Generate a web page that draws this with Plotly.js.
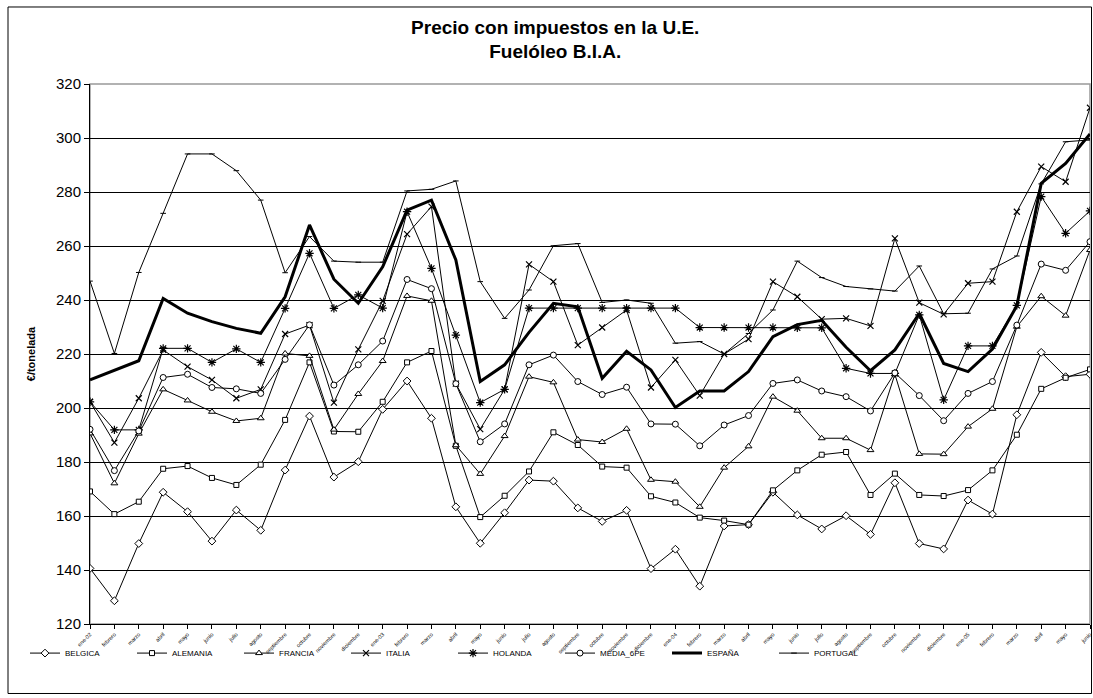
<!DOCTYPE html>
<html>
<head>
<meta charset="utf-8">
<script src="https://cdn.plot.ly/plotly-3.0.1.min.js"></script>
<style>
html,body{margin:0;padding:0;background:#fff;}
#chart{width:1093px;height:698px;}
</style>
</head>
<body>
<div id="chart"></div>
<script>
// Month labels (x axis categories)
const months = [
  "ene-02","febrero","marzo","abril","mayo","junio","julio","agosto","septiembre","octubre","noviembre","diciembre",
  "ene-03","febrero","marzo","abril","mayo","junio","julio","agosto","septiembre","octubre","noviembre","diciembre",
  "ene-04","febrero","marzo","abril","mayo","junio","julio","agosto","septiembre","octubre","noviembre","diciembre",
  "ene-05","febrero","marzo","abril","mayo","junio"
];

// Series values (€/tonelada)
const belgica = [140.6,128.6,149.8,168.8,161.6,150.7,162.2,154.7,177,197,174.4,180.1,
  199.5,210,196.2,163.4,149.9,161.2,173.3,172.9,163,158,162.1,140.5,
  147.7,134,156.3,156.8,168.8,160.4,155.2,160.1,153.2,172.3,149.8,147.8,
  165.9,160.7,197.5,220.6,211.6,212.5];
const alemania = [169.1,160.7,165.3,177.5,178.5,174.1,171.5,179,195.6,216.9,191.3,191.2,
  202.3,216.9,221.1,186,159.6,167.5,176.5,191,186.3,178.3,177.9,167.3,
  165,159.4,158.3,156.8,169.5,176.9,182.7,183.7,167.8,175.7,167.8,167.4,
  169.6,176.9,190.1,207.1,211.2,214.3];
const francia = [190.6,172.1,190.5,206.9,202.8,198.6,195.2,196.2,220.2,219.3,192,205.2,
  217.4,241.5,239.7,186.2,175.6,189.6,211.6,209.5,188.3,187.4,192.3,173.4,
  172.7,163.4,177.9,185.8,204.2,199,188.8,188.8,184.4,212.5,183,182.9,
  193.1,199.7,230.1,241.4,234.2,258.5];
const italia = [202.3,187.2,203.6,221.5,215.3,210.4,203.6,206.9,227.4,230.7,202,221.7,
  239.7,264.4,274.6,209,192.2,206.9,253.2,246.8,223.3,229.8,236.3,207.6,
  217.8,204.6,220,225.5,246.8,241.2,232.9,233.2,230.4,262.8,239,234.7,
  246.2,246.8,272.7,289.4,283.8,311.2];
const holanda = [202.3,191.9,191.9,222.1,222.1,216.9,221.9,216.9,236.9,257.3,236.9,241.9,
  237,272.7,251.7,227,202,206.9,237,237,237,237,237,237,
  237,229.8,229.8,229.8,229.8,229.7,229.7,214.7,212.8,212.8,234.5,203,
  223,223,238,278.3,264.7,273];
const media6pe = [192.1,176.8,191.5,211.3,212.5,207.6,207.1,205.4,218,230.8,208.5,216,
  224.8,247.6,244.2,209,187.5,194.1,216,219.6,209.8,205,207.7,194.1,
  194,186,193.7,197.2,209.1,210.4,206.3,204.2,198.9,213,204.6,195.3,
  205.4,209.8,230.7,253.3,251,261.6];
const espana = [210.4,214.1,217.5,240.6,235.1,232,229.5,227.7,241.2,267.8,247.7,238.8,
  252.3,273.3,277,254.8,209.8,216,228,238.8,237.5,211,221,214.1,
  200.2,206.3,206.3,213.5,226.4,230.9,232.5,222.5,213.8,221.5,235,216.5,
  213.5,221.8,237.9,283.2,290.6,301.5];
const portugal = [247,220.2,250.2,272.1,294.1,294.1,287.9,277,250.1,263.5,254.4,254,
  254,280.4,281,284.1,246.8,233.2,243.7,260.1,260.9,239.1,240,238.8,
  224,224.6,220,227.6,236.3,254.4,248.3,245,244.1,243.3,252.6,234.9,
  235.1,251.5,256.3,283,298.6,299.3];

const yTicks = [120,140,160,180,200,220,240,260,280,300,320];

const xIdx = months.map((m,i)=>i);

function series(name, y, symbol, size, width, mlw) {
  const t = {
    type:'scatter', mode: symbol ? 'lines+markers' : 'lines', name:name,
    x:xIdx, y:y,
    line:{color:'#000', width:width},
    hoverinfo:'name+y'
  };
  if (symbol) t.marker = {symbol:symbol, size:size, color:'#fff', line:{color:'#000', width:mlw}};
  return t;
}

const data = [
  series('BELGICA', belgica, 'diamond', 6, 1, 1),
  series('ALEMANIA', alemania, 'square', 5, 1, 1),
  series('FRANCIA', francia, 'triangle-up', 6, 1, 1),
  series('ITALIA', italia, 'x-thin', 6, 1, 1.2),
  series('HOLANDA', holanda, 'asterisk', 7, 1, 1.2),
  series('MEDIA_6PE', media6pe, 'circle', 6, 1, 1),
  series('ESPAÑA', espana, null, 0, 3, 0),
  series('PORTUGAL', portugal, 'line-ew', 4, 1, 1)
];

const font = 'Liberation Sans, Arial, sans-serif';

const layout = {
  width:1093, height:698,
  paper_bgcolor:'#fff', plot_bgcolor:'#fff',
  margin:{l:90, r:3, t:84, b:74},
  font:{family:font, color:'#000'},
  showlegend:true,
  title:{
    text:'<b>Precio con impuestos en la U.E.</b><br><b>Fuelóleo B.I.A.</b>',
    font:{family:font, size:19, color:'#000'},
    x:0.508, xref:'container', xanchor:'center',
    y:0.952, yref:'container', yanchor:'top'
  },
  xaxis:{
    range:[0, months.length-1],
    tickmode:'array', tickvals:xIdx, ticktext:months,
    tickangle:-45, tickfont:{family:font, size:5.5, color:'#000'},
    ticks:'outside', ticklen:4, tickcolor:'#000', tickwidth:1,
    showgrid:false, zeroline:false,
    showline:true, linecolor:'#000', linewidth:1,
    fixedrange:true
  },
  yaxis:{
    range:[120,320], tickmode:'array', tickvals:yTicks,
    tickfont:{family:font, size:15, color:'#000'},
    ticks:'outside', ticklen:5, tickcolor:'#000', tickwidth:1,
    showgrid:true, gridcolor:'#000', gridwidth:1,
    zeroline:false, showline:true, linecolor:'#000', linewidth:1,
    title:{text:'<b>€/tonelada</b>', font:{family:font, size:11, color:'#000'}, standoff:18},
    fixedrange:true
  },
  legend:{
    orientation:'h', x:-0.065, xanchor:'left', y:-0.027, yanchor:'top',
    font:{family:font, size:8, color:'#000'},
    entrywidth:62, entrywidthmode:'pixels',
    bgcolor:'rgba(0,0,0,0)', tracegroupgap:0, itemwidth:30
  },
  shapes:[
    {type:'rect', xref:'paper', yref:'paper', x0:0, x1:1, y0:0, y1:1,
     line:{color:'#999', width:1.5}, layer:'below'},
    {type:'rect', xref:'paper', yref:'paper', x0:-0.082, x1:1.0015, y0:-0.1287, y1:1.1426,
     line:{color:'#000', width:1}, layer:'below'}
  ]
};

Plotly.newPlot('chart', data, layout, {displayModeBar:false, staticPlot:true});
</script>
</body>
</html>
